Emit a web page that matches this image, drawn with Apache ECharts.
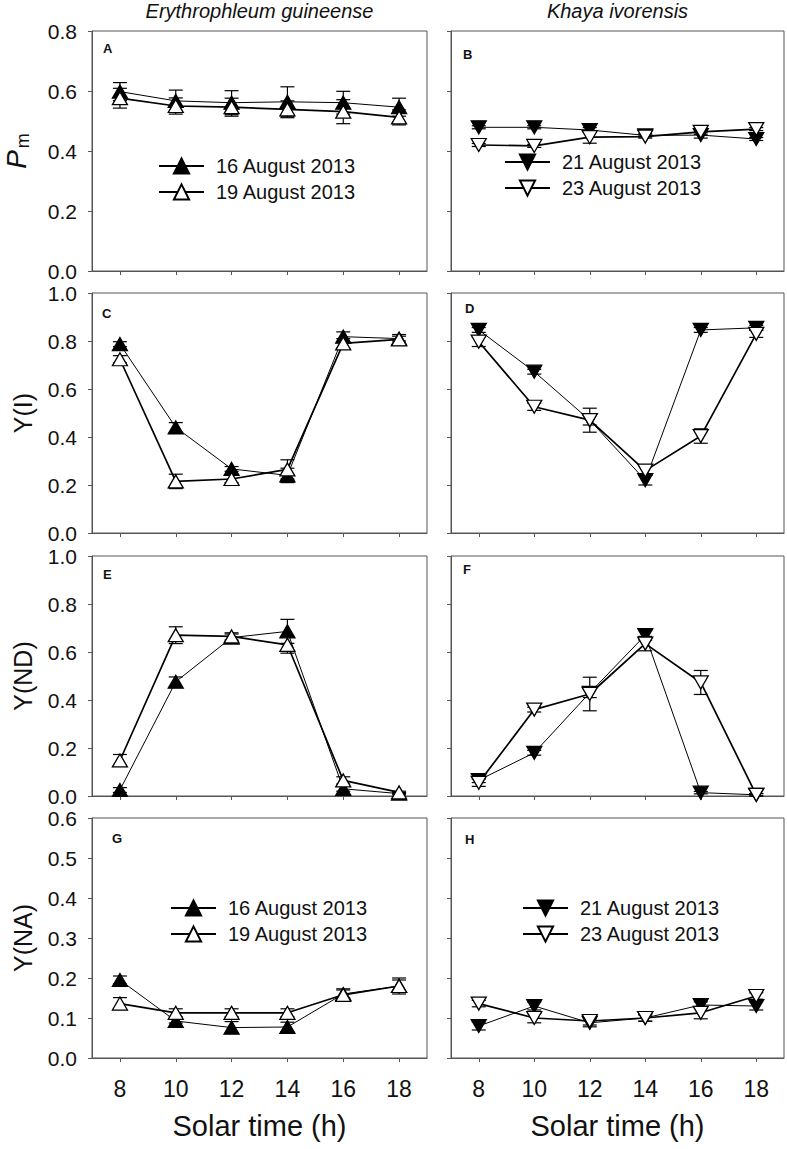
<!DOCTYPE html>
<html><head><meta charset="utf-8">
<script src="https://cdn.jsdelivr.net/npm/echarts@6/dist/echarts.min.js"></script>
<style>html,body{margin:0;padding:0;background:#fff}#c{width:787px;height:1149px}</style>
</head><body><div id="c"></div><script>
// ---- data ----
const hours = [8, 10, 12, 14, 16, 18];
const dateNames = ['16 August 2013', '19 August 2013', '21 August 2013', '23 August 2013'];
// Pm
const pm16 = [0.598, 0.567, 0.561, 0.564, 0.561, 0.546];
const pm16Err = [0.03, 0.036, 0.04, 0.05, 0.038, 0.03];
const pm19 = [0.576, 0.550, 0.546, 0.539, 0.531, 0.512];
const pm19Err = [0.033, 0.027, 0.03, 0.028, 0.04, 0.025];
const pm21 = [0.479, 0.479, 0.470, 0.452, 0.453, 0.440];
const pm21Err = [0.005, 0.005, 0.008, 0.005, 0.01, 0.005];
const pm23 = [0.420, 0.417, 0.446, 0.448, 0.464, 0.473];
const pm23Err = [0.005, 0.005, 0.02, 0.005, 0.008, 0.005];
// Y(I)
const yi16 = [0.787, 0.44, 0.267, 0.24, 0.818, 0.81];
const yi16Err = [0.01, 0.02, 0.01, 0.03, 0.02, 0.01];
const yi19 = [0.724, 0.215, 0.225, 0.265, 0.79, 0.807];
const yi19Err = [0.015, 0.03, 0.015, 0.04, 0.02, 0.02];
const yi21 = [0.846, 0.672, 0.47, 0.22, 0.846, 0.855];
const yi21Err = [0.01, 0.01, 0.02, 0.02, 0.01, 0.01];
const yi23 = [0.797, 0.526, 0.47, 0.26, 0.404, 0.83];
const yi23Err = [0.02, 0.015, 0.05, 0.02, 0.03, 0.015];
// Y(ND)
const ynd16 = [0.025, 0.476, 0.66, 0.686, 0.03, 0.01];
const ynd16Err = [0.01, 0.02, 0.015, 0.05, 0.01, 0.005];
const ynd19 = [0.148, 0.67, 0.665, 0.63, 0.065, 0.015];
const ynd19Err = [0.025, 0.035, 0.015, 0.035, 0.015, 0.005];
const ynd21 = [0.066, 0.18, 0.43, 0.67, 0.014, 0.005];
const ynd21Err = [0.01, 0.01, 0.02, 0.02, 0.005, 0.005];
const ynd23 = [0.055, 0.36, 0.425, 0.635, 0.473, 0.005];
const ynd23Err = [0.015, 0.01, 0.07, 0.03, 0.05, 0.005];
// Y(NA)
const yna16 = [0.195, 0.0925, 0.076, 0.0775, 0.16, 0.18];
const yna16Err = [0.01, 0.005, 0.015, 0.012, 0.01, 0.015];
const yna19 = [0.136, 0.113, 0.113, 0.113, 0.158, 0.18];
const yna19Err = [0.015, 0.01, 0.01, 0.01, 0.015, 0.02];
const yna21 = [0.08, 0.13, 0.088, 0.1, 0.1325, 0.13];
const yna21Err = [0.01, 0.01, 0.01, 0.008, 0.008, 0.01];
const yna23 = [0.136, 0.1, 0.0925, 0.1, 0.113, 0.155];
const yna23Err = [0.008, 0.012, 0.01, 0.008, 0.015, 0.008];
// axis settings
const yMax = [0.8, 1.0, 1.0, 0.6];
const yStep = [0.2, 0.2, 0.2, 0.1];
const yTitles = ['Pm', 'Y(I)', 'Y(ND)', 'Y(NA)'];
const panelLetters = ['A', 'B', 'C', 'D', 'E', 'F', 'G', 'H'];
const speciesNames = ['Erythrophleum guineense', 'Khaya ivorensis'];
const xTitle = 'Solar time (h)';

// ---- layout ----
const FONT = 'Liberation Sans, Arial, sans-serif';
const tops = [31, 293, 556, 818];
const H = 240;
const colLeft = [92, 451];
const colRight = [360, 3];
const panels = [
  [[pm16, pm16Err, 0], [pm19, pm19Err, 1]], [[pm21, pm21Err, 2], [pm23, pm23Err, 3]],
  [[yi16, yi16Err, 0], [yi19, yi19Err, 1]], [[yi21, yi21Err, 2], [yi23, yi23Err, 3]],
  [[ynd16, ynd16Err, 0], [ynd19, ynd19Err, 1]], [[ynd21, ynd21Err, 2], [ynd23, ynd23Err, 3]],
  [[yna16, yna16Err, 0], [yna19, yna19Err, 1]], [[yna21, yna21Err, 2], [yna23, yna23Err, 3]]
];
const letterPos = [[103,42],[463,48],[102,307],[465,302],[103,568],[463,563],[112,832],[465,833]];

const grid = [], xAxis = [], yAxis = [], series = [], title = [];
for (let r = 0; r < 4; r++) {
  for (let c = 0; c < 2; c++) {
    const i = r * 2 + c;
    grid.push({left: colLeft[c], right: colRight[c], top: tops[r], height: H,
      show: true, borderColor: '#555', borderWidth: 1, backgroundColor: 'transparent'});
    const last = r === 3;
    xAxis.push({type: 'value', gridIndex: i, min: 7, max: 19,
      axisLine: {show: true, onZero: false, lineStyle: {color: '#555', width: 1}},
      axisTick: {show: true, inside: false, length: 4, customValues: hours, lineStyle: {color: '#555'}},
      axisLabel: {show: last, customValues: hours, fontSize: 23, color: '#111', fontFamily: FONT, margin: 19},
      splitLine: {show: false},
      name: last ? xTitle : '', nameLocation: 'middle', nameGap: 53,
      nameTextStyle: {fontSize: 29, color: '#111', fontFamily: FONT}
    });
    let yName = '';
    let nts = {fontSize: 25, color: '#111', fontFamily: FONT};
    if (c === 0) {
      if (r === 0) {
        yName = '{p|P}{m|m}';
        nts.rich = {p: {fontSize: 28, fontStyle: 'italic', fontFamily: FONT, color: '#111'},
                    m: {fontSize: 18, fontFamily: FONT, color: '#111', verticalAlign: 'top', padding: [14, 0, 0, 2]}};
      } else yName = yTitles[r];
    }
    yAxis.push({type: 'value', gridIndex: i, min: 0, max: yMax[r], interval: yStep[r],
      axisLine: {show: true, lineStyle: {color: '#555', width: 1}},
      axisTick: {show: true, inside: false, length: 4, lineStyle: {color: '#555'}},
      axisLabel: {show: c === 0, fontSize: 21, lineHeight: 16, color: '#111', fontFamily: FONT, margin: 15,
        formatter: v => v.toFixed(1)},
      splitLine: {show: false},
      name: yName, nameLocation: 'middle', nameRotate: 90, nameGap: r === 0 ? 60 : 57,
      nameTextStyle: nts
    });
    panels[i].forEach(([vals, errs, d]) => {
      const filled = d % 2 === 0;
      const down = d >= 2;
      // error bars
      series.push({type: 'custom', xAxisIndex: i, yAxisIndex: i, z: 1, silent: true,
        data: hours.map((h, k) => [h, vals[k] - errs[k], vals[k] + errs[k]]),
        renderItem: (params, api) => {
          const lo = api.coord([api.value(0), api.value(1)]);
          const hi = api.coord([api.value(0), api.value(2)]);
          const w = 7;
          const st = {stroke: '#000', lineWidth: 1.2, fill: null};
          return {type: 'group', children: [
            {type: 'line', shape: {x1: lo[0], y1: lo[1], x2: hi[0], y2: hi[1]}, style: st},
            {type: 'line', shape: {x1: lo[0]-w, y1: lo[1], x2: lo[0]+w, y2: lo[1]}, style: st},
            {type: 'line', shape: {x1: hi[0]-w, y1: hi[1], x2: hi[0]+w, y2: hi[1]}, style: st}
          ]};
        }
      });
      series.push({type: 'line', name: dateNames[d], xAxisIndex: i, yAxisIndex: i, z: 3,
        data: hours.map((h, k) => [h, vals[k]]),
        symbol: 'triangle', symbolSize: [15, 13], symbolRotate: down ? 180 : 0,
        showAllSymbol: true, animation: false,
        lineStyle: {color: '#000', width: filled ? 1 : 1.7},
        itemStyle: {color: filled ? '#000' : '#fff', borderColor: '#000', borderWidth: 1.3}
      });
    });
    title.push({text: panelLetters[i], left: letterPos[i][0], top: letterPos[i][1], padding: 0,
      textStyle: {fontSize: 13, fontWeight: 'bold', fontFamily: FONT, color: '#111'}});
  }
}
title.push({text: speciesNames[0], left: 259.5, top: 1, padding: 0, textAlign: 'center',
  textStyle: {fontSize: 20, fontStyle: 'italic', fontWeight: 'normal', fontFamily: FONT, color: '#111'}});
title.push({text: speciesNames[1], left: 617.5, top: 1, padding: 0, textAlign: 'center',
  textStyle: {fontSize: 20, fontStyle: 'italic', fontWeight: 'normal', fontFamily: FONT, color: '#111'}});

const legBase = {orient: 'vertical', padding: 0, itemWidth: 45, itemHeight: 19, itemGap: 6,
  symbolRotate: 'inherit', textStyle: {fontSize: 20, color: '#111', fontFamily: FONT, padding: [0, 0, 0, 7]},
  selectedMode: false};
const legend = [
  Object.assign({}, legBase, {left: 158, top: 156, data: [dateNames[0], dateNames[1]]}),
  Object.assign({}, legBase, {left: 504, top: 152, data: [dateNames[2], dateNames[3]]}),
  Object.assign({}, legBase, {left: 170, top: 898, data: [dateNames[0], dateNames[1]]}),
  Object.assign({}, legBase, {left: 522, top: 898, data: [dateNames[2], dateNames[3]]})
];

const chart = echarts.init(document.getElementById('c'), null, {renderer: 'svg'});
chart.setOption({animation: false, backgroundColor: '#fff', title, grid, xAxis, yAxis, legend, series});
</script></body></html>
